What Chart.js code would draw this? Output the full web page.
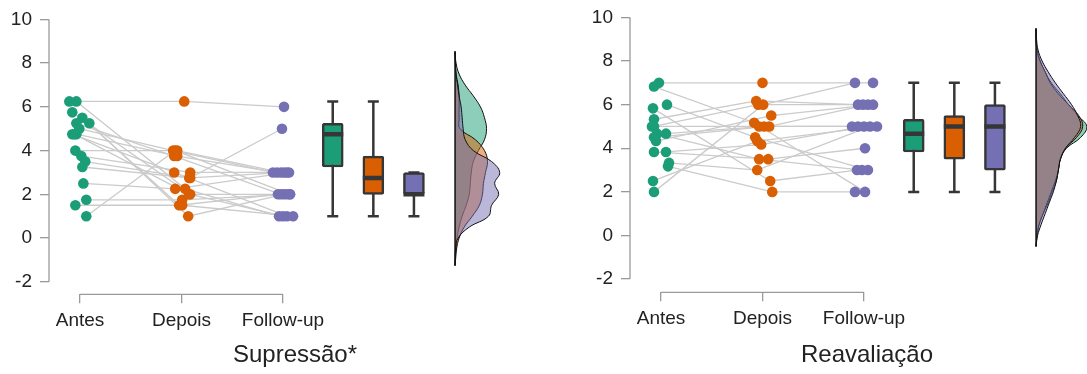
<!DOCTYPE html>
<html>
<head>
<meta charset="utf-8">
<script src="https://cdn.jsdelivr.net/npm/chart.js@4.4.0/dist/chart.umd.min.js"></script>
<style>
  html, body { margin: 0; padding: 0; background: #fff; overflow: hidden; width: 1087px; height: 374px; }
  .panel { position: absolute; }
  #wrapSup { left: 0; top: 0; }
  #wrapRea { left: 581px; top: -2px; }
</style>
</head>
<body>
<div class="panel" id="wrapSup"><canvas id="chartSup" width="541" height="374"></canvas></div>
<div class="panel" id="wrapRea"><canvas id="chartRea" width="523" height="376"></canvas></div>
<script>
// ---- data ----
const groups = ['Antes', 'Depois', 'Follow-up'];
const yTicks = [-2, 0, 2, 4, 6, 8, 10];

// Supressão: one value per participant, paired across the three moments
const supAntes  = [6.25, 6.25, 5.75, 5.5, 5.25, 5.25, 5.0, 4.75, 4.75, 4.75, 4.0, 3.75, 3.5, 3.25, 2.5, 1.75, 1.5, 1.0];
const supDepois = [6.25, 2.25, 2.0, 1.5, 3.75, 1.0, 4.0, 3.0, 3.75, 2.0, 4.0, 3.0, 2.75, 2.75, 2.25, 1.75, 1.5, 4.0];
const supFollow = [6, 1, 1, 2, 2, 2, 3, 1, 3, 2, 3, 3, 5, 3, 3, 2, 1, 2];
// horizontal jitter of each dot (fraction of one category step)
const supJitA = [-0.105, -0.036, -0.076, 0.023, -0.036, 0.092, -0.007, -0.076, -0.036, -0.056, -0.046, 0.013, 0.052, 0.023, 0.033, 0.062, -0.046, 0.062];
const supJitD = [0.027, 0.036, 0.086, -0.023, -0.072, 0.066, -0.082, -0.072, -0.042, 0.076, -0.042, 0.086, 0.086, 0.076, -0.062, 0.007, 0.007, -0.062];
const supJitF = [0.01, -0.039, 0, -0.049, -0.02, 0.01, -0.099, 0.039, -0.059, 0.039, -0.02, 0.01, -0.01, 0.039, 0.059, 0.069, 0.099, 0.069];
// box plot stats (Antes, Depois, Follow-up)
const supLow  = [1.0, 1.0, 1.0];
const supQ1   = [3.25, 2.0, 2.0];
const supMed  = [4.75, 2.75, 2.0];
const supQ3   = [5.25, 3.75, 3.0];
const supHigh = [6.25, 6.25, 3.0];
// density clouds, read at these levels
const supDensY = [8.5, 8.0, 7.5, 7.0, 6.5, 6.0, 5.5, 5.0, 4.5, 4.0, 3.5, 3.0, 2.5, 2.0, 1.5, 1.0, 0.5, 0.0, -0.5, -1.0, -1.25];
const supDensA = [0, 0.01, 0.04, 0.10, 0.18, 0.25, 0.29, 0.31, 0.29, 0.23, 0.18, 0.16, 0.15, 0.14, 0.11, 0.07, 0.04, 0.02, 0.01, 0.003, 0];
const supDensD = [0, 0.002, 0.01, 0.03, 0.04, 0.04, 0.04, 0.05, 0.20, 0.29, 0.32, 0.30, 0.28, 0.27, 0.24, 0.17, 0.09, 0.04, 0.015, 0.005, 0];
const supDensF = [0, 0.005, 0.01, 0.025, 0.04, 0.06, 0.07, 0.08, 0.10, 0.18, 0.36, 0.44, 0.39, 0.43, 0.36, 0.33, 0.14, 0.03, 0.005, 0, 0];
const supDensRange = [-1.27, 8.55];

// Reavaliação
const reaAntes  = [7.0, 6.83, 6.0, 5.83, 5.33, 5.0, 5.0, 4.67, 4.67, 4.5, 4.33, 3.83, 3.83, 3.33, 3.17, 2.5, 2.0];
const reaDepois = [7.0, 5.17, 4.5, 2.5, 6.17, 5.0, 6.0, 5.0, 3.5, 5.0, 5.5, 3.5, 4.17, 3.0, 2.0, 4.33, 6.0];
const reaFollow = [7, 2, 3, 3, 6, 5, 6, 5, 3, 6, 6, 4, 5, 5, 2, 5, 7];
const reaJitA = [-0.02, -0.069, 0.059, -0.079, -0.069, -0.089, -0.069, 0.049, -0.039, -0.069, -0.049, -0.069, 0.049, 0.079, 0.069, -0.079, -0.069];
const reaJitD = [0, -0.082, -0.072, 0.076, -0.062, -0.033, -0.042, 0.017, -0.033, 0.066, 0.086, 0.056, -0.013, -0.052, 0.096, -0.052, 0.007];
const reaJitF = [0.089, 0.01, 0.039, -0.069, -0.059, -0.118, -0.01, -0.059, -0.02, 0.039, 0.089, 0.01, 0, 0.059, -0.089, 0.128, -0.089];
const reaLow  = [2, 2, 2];
const reaQ1   = [3.83, 3.5, 3.0];
const reaMed  = [4.67, 5.0, 5.0];
const reaQ3   = [5.33, 5.5, 6.0];
const reaHigh = [7, 7, 7];
const reaDensY = [9.5, 9.0, 8.5, 8.0, 7.5, 7.0, 6.5, 6.0, 5.5, 5.0, 4.5, 4.0, 3.5, 3.0, 2.5, 2.0, 1.5, 1.0, 0.5, 0.0, -0.5];
const reaDensA = [0, 0, 0.01, 0.04, 0.09, 0.15, 0.24, 0.32, 0.41, 0.50, 0.44, 0.30, 0.24, 0.22, 0.20, 0.16, 0.12, 0.07, 0.03, 0.01, 0];
const reaDensD = [0, 0, 0.01, 0.04, 0.09, 0.14, 0.22, 0.32, 0.42, 0.46, 0.40, 0.29, 0.24, 0.22, 0.19, 0.15, 0.11, 0.07, 0.03, 0.01, 0];
const reaDensF = [0, 0.005, 0.02, 0.06, 0.12, 0.19, 0.27, 0.35, 0.41, 0.44, 0.38, 0.29, 0.24, 0.22, 0.20, 0.17, 0.13, 0.09, 0.05, 0.015, 0];
const reaDensRange = [-0.5, 9.46];

// ---- layout / style ----
const colors = ['#1b9e77', '#d95f02', '#7570b3'];
const cloudColors = ['rgba(27,158,119,0.5)', 'rgba(217,95,2,0.5)', 'rgba(117,112,179,0.5)'];
const AXIS_COLOR = '#9a9a9a';
const TEXT_COLOR = '#222';
const DARK = '#363636';
const UNIT = 101.5;        // px per category step
const Y_PX = 22.08;        // px per y unit
const Y_AXIS_W = 49;
const CHART_BOTTOM = 294.3;
const BOX_X = [3.49, 3.89, 4.29];
const DENS_BASE = 4.695;

Chart.defaults.font.family = '"Liberation Sans", Arial, Helvetica, sans-serif';

const rAxes = {
  id: 'rAxes',
  beforeDatasetsDraw(chart) {
    const { ctx, chartArea, scales: { x, y } } = chart;
    ctx.save();
    ctx.strokeStyle = AXIS_COLOR;
    ctx.lineWidth = 1.3;
    ctx.beginPath();
    ctx.moveTo(chartArea.left, y.getPixelForValue(yTicks[0]));
    ctx.lineTo(chartArea.left, y.getPixelForValue(yTicks[yTicks.length - 1]));
    ctx.moveTo(x.getPixelForValue(1), chartArea.bottom);
    ctx.lineTo(x.getPixelForValue(groups.length), chartArea.bottom);
    ctx.stroke();
    ctx.restore();
  }
};

function buildPanel(canvasId, p) {
  const canvas = document.getElementById(canvasId);
  const W = canvas.width, H = canvas.height;
  const xMin = 1 - 31 / UNIT;
  const xMax = xMin + (W - Y_AXIS_W) / UNIT;
  const yMin = 10 - (CHART_BOTTOM - p.padTop) / Y_PX;

  const series = [p.antes, p.depois, p.follow];
  const jit = [p.jitA, p.jitD, p.jitF];
  const datasets = [];

  // paired lines
  p.antes.forEach((_, i) => {
    datasets.push({
      type: 'line',
      data: series.map((s, g) => ({ x: g + 1 + jit[g][i], y: s[i] })),
      borderColor: '#cbcbcb',
      borderWidth: 1.3,
      pointRadius: 0,
      tension: 0,
      fill: false,
      order: 20
    });
  });

  // dots
  series.forEach((s, g) => {
    datasets.push({
      type: 'scatter',
      data: s.map((v, i) => ({ x: g + 1 + jit[g][i], y: v })),
      backgroundColor: colors[g],
      borderWidth: 0,
      pointRadius: 5.3,
      order: 9
    });
  });

  // whiskers
  groups.forEach((_, g) => {
    datasets.push({
      type: 'line',
      data: [{ x: BOX_X[g], y: p.low[g] }, { x: BOX_X[g], y: p.high[g] }],
      borderColor: DARK,
      borderWidth: 2.5,
      pointRadius: 0,
      fill: false,
      order: 8
    });
  });
  datasets.push({
    type: 'scatter',
    data: groups.flatMap((_, g) => [{ x: BOX_X[g], y: p.low[g] }, { x: BOX_X[g], y: p.high[g] }]),
    pointStyle: 'line',
    pointRadius: 5.5,
    borderColor: DARK,
    borderWidth: 2.5,
    order: 6
  });

  // boxes
  datasets.push({
    type: 'bar',
    data: groups.map((_, g) => ({ x: BOX_X[g], y: [p.q1[g], p.q3[g]] })),
    backgroundColor: colors,
    borderColor: DARK,
    borderWidth: 2.5,
    borderSkipped: false,
    borderRadius: 2,
    barThickness: 21,
    order: 7
  });

  // medians
  datasets.push({
    type: 'scatter',
    data: groups.map((_, g) => ({ x: BOX_X[g], y: p.med[g] })),
    pointStyle: 'line',
    pointRadius: 10.5,
    borderColor: DARK,
    borderWidth: 4.5,
    order: 5
  });

  // density clouds
  [p.densA, p.densD, p.densF].forEach((d, g) => {
    datasets.push({
      type: 'line',
      indexAxis: 'y',
      data: p.densY.map((y, k) => ({ x: DENS_BASE + d[k], y })),
      fill: { value: DENS_BASE },
      backgroundColor: cloudColors[g],
      borderColor: '#111',
      borderWidth: 1,
      pointRadius: 0,
      tension: 0.4,
      order: 4 - g
    });
  });
  datasets.push({
    type: 'line',
    data: [{ x: DENS_BASE, y: p.densRange[1] }, { x: DENS_BASE, y: p.densRange[0] }],
    borderColor: '#111',
    borderWidth: 1.5,
    pointRadius: 0,
    fill: false,
    order: 1
  });

  const tickFont = { size: 19 };
  const gridOpts = { drawOnChartArea: false, drawTicks: true, offset: false, tickLength: 9, color: AXIS_COLOR, lineWidth: 1.3 };

  return new Chart(canvas.getContext('2d'), {
    type: 'scatter',
    data: { datasets },
    plugins: [rAxes],
    options: {
      responsive: false,
      animation: false,
      events: [],
      layout: { autoPadding: false, padding: { top: p.padTop, left: 0, right: 0, bottom: 0 } },
      plugins: { legend: { display: false }, tooltip: { enabled: false } },
      scales: {
        x: {
          type: 'linear',
          min: xMin,
          max: xMax,
          offset: false,
          afterBuildTicks: s => { s.ticks = groups.map((_, i) => ({ value: i + 1 })); },
          ticks: {
            callback: (v, i) => groups[i],
            font: tickFont,
            color: TEXT_COLOR,
            padding: 6,
            maxRotation: 0,
            autoSkip: false
          },
          grid: gridOpts,
          border: { display: false },
          title: {
            display: true,
            text: p.title,
            font: { size: 24 },
            color: TEXT_COLOR,
            padding: { top: 0, bottom: 4.6 }
          },
          afterFit: s => { s.height = H - CHART_BOTTOM; }
        },
        y: {
          type: 'linear',
          min: yMin,
          max: 10,
          offset: false,
          afterBuildTicks: s => { s.ticks = yTicks.map(v => ({ value: v })); },
          ticks: {
            callback: v => String(v),
            font: tickFont,
            color: TEXT_COLOR,
            padding: 8,
            autoSkip: false
          },
          grid: gridOpts,
          border: { display: false },
          afterFit: s => { s.width = Y_AXIS_W; }
        }
      }
    }
  });
}

buildPanel('chartSup', {
  title: 'Supressão*', padTop: 16.7,
  antes: supAntes, depois: supDepois, follow: supFollow,
  jitA: supJitA, jitD: supJitD, jitF: supJitF,
  low: supLow, q1: supQ1, med: supMed, q3: supQ3, high: supHigh,
  densY: supDensY, densA: supDensA, densD: supDensD, densF: supDensF, densRange: supDensRange
});

buildPanel('chartRea', {
  title: 'Reavaliação', padTop: 16,
  antes: reaAntes, depois: reaDepois, follow: reaFollow,
  jitA: reaJitA, jitD: reaJitD, jitF: reaJitF,
  low: reaLow, q1: reaQ1, med: reaMed, q3: reaQ3, high: reaHigh,
  densY: reaDensY, densA: reaDensA, densD: reaDensD, densF: reaDensF, densRange: reaDensRange
});
</script>
</body>
</html>
